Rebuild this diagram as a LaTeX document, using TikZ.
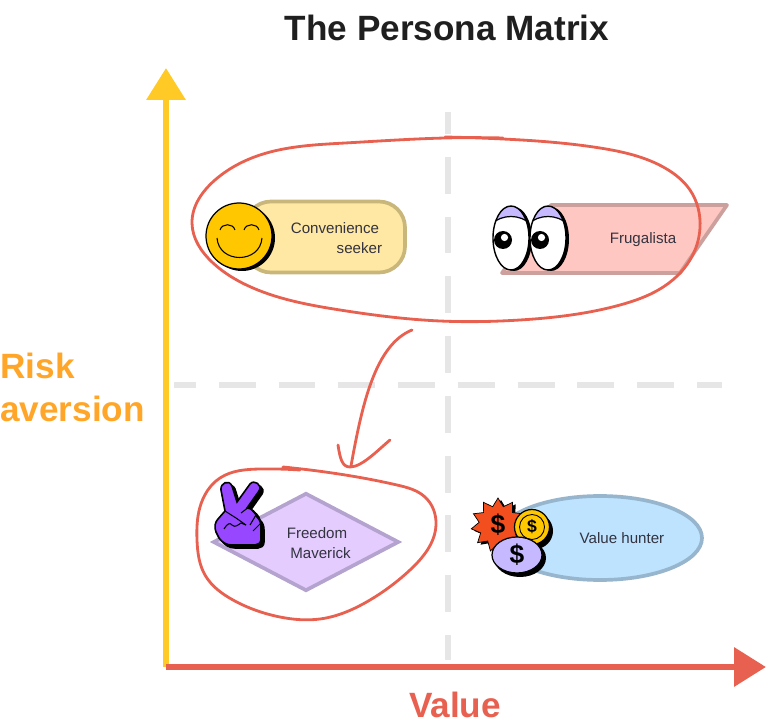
\documentclass[tikz,border=0pt]{standalone}
\usepackage{fontspec}
\setmainfont{Liberation Sans}
\usetikzlibrary{shapes.geometric, arrows.meta, hobby}
\definecolor{axisyellow}{HTML}{FFC926}
\definecolor{axisred}{HTML}{E8604F}
\definecolor{riskorange}{HTML}{FFA629}
\definecolor{griddash}{HTML}{E6E6E6}
\definecolor{inktext}{HTML}{333340}
\definecolor{lilac}{HTML}{C7B9FF}
\definecolor{coinyellow}{HTML}{FFC700}
\definecolor{burstred}{HTML}{F24E1E}
\definecolor{handpurple}{HTML}{9747FF}
\tikzset{
  axisline/.style={line width=3.8pt},
  griddashes/.style={griddash, line width=3.97pt, dash pattern=on 20.98pt off 13.04pt, dash phase=8.5pt},
  sketchline/.style={draw=axisred, line width=1.6pt, line cap=round, line join=round},
  persona/.style={inner sep=0pt, line width=2.1pt},
  personatext/.style={font=\fontsize{8.6}{11.8}\selectfont, text=inktext, align=center, inner sep=0pt},
  bigtext/.style={font=\fontsize{20}{24.5}\selectfont\bfseries, inner sep=0pt},
  dollar/.style={font=\fontsize{15}{15}\selectfont\bfseries, inner sep=0pt},
}
\newcommand{\handpath}{(221,490) .. controls (220,483) and (229,479) .. (232,486) -- (237,502) -- (250,484) .. controls (254,479) and (263,485) .. (259,491) -- (247,508) .. controls (252,508) and (256,513) .. (257,517) .. controls (260,520) and (261,523) .. (261,527) -- (261,539) .. controls (261,543) and (258,545) .. (255,545) -- (232,545) .. controls (226,545) and (222,542) .. (219,538) -- (216,532) .. controls (214,527) and (215,522) .. (218,519) -- (225,511) -- cycle}
\begin{document}
\begin{tikzpicture}[x=0.02cm, y=-0.02cm]
  \useasboundingbox (0,0) rectangle (768,726);

  \node[bigtext, text=black!88] (title) at (447,28) {The Persona Matrix};

  % dashed cross
  \draw[griddashes] (448,112) -- (448,660);
  \draw[griddashes] (174,385) -- (722,385);

  % axes
  \coordinate (origin) at (166,667);
  \coordinate (ytip) at (166,68);
  \coordinate (xtip) at (766,667);
  \draw[axisline, axisyellow, -{Triangle[length=32*0.02cm, width=38*0.02cm]}] (origin) -- (ytip);
  \draw[axisline, axisred, -{Triangle[length=32*0.02cm, width=38*0.02cm]}] (origin) -- (xtip);
  \node[bigtext, text=riskorange, align=left, anchor=north west] (risk) at (0,353) {Risk\\aversion};
  \node[bigtext, text=axisred] (value) at (455,705) {Value};

  % personas
  \node[persona, rounded corners=26*0.02cm, minimum width=160*0.02cm, minimum height=71*0.02cm, draw={rgb,255:red,201;green,182;blue,122}, fill={rgb,255:red,255;green,232;blue,163}] (convenience) at (325,237) {};
  \node[personatext, align=right] (conveniencetext) at (335,238) {Convenience\\seeker\hspace*{-1.7pt}};

  \filldraw[persona, fill={rgb,255:red,255;green,199;blue,194}, draw={rgb,255:red,204;green,160;blue,156}, line join=round] (551,205) -- (727,205) -- (680,273) -- (502,273) -- cycle;
  \node[personatext] (frugalista) at (643,240) {Frugalista};

  \node[persona, diamond, draw={rgb,255:red,181;green,163;blue,207}, fill={rgb,255:red,228;green,204;blue,255}, minimum width=186*0.02cm, minimum height=98*0.02cm] (freedom) at (306,542) {};
  \node[personatext] (freedomtext) at (317,543) {Freedom\\\hspace{4pt}Maverick};

  \node[persona, ellipse, draw={rgb,255:red,151;green,181;blue,204}, fill={rgb,255:red,189;green,227;blue,255}, minimum width=204*0.02cm, minimum height=84*0.02cm] (hunter) at (600,538) {};
  \node[personatext] (huntertext) at (622,538) {Value hunter};

  % smiley
  \fill[black] (242,238) circle (33);
  \filldraw[fill=coinyellow, draw=black, line width=0.7pt] (239,236) circle (33);
  \draw[line width=0.6pt] (220,230) .. controls (222,223) and (233,223) .. (235,230);
  \draw[line width=0.6pt] (244,230) .. controls (246,223) and (257,223) .. (259,230);
  \draw[line width=0.6pt] (217,238) .. controls (219,264) and (260,264) .. (262,238);

  % eyes
  \foreach \ex/\px in {511/503, 548/540} {
    \fill[black] (\ex+3,239) ellipse (18 and 32);
    \begin{scope}
      \clip (\ex,238) ellipse (18 and 32);
      \fill[white] (\ex-20,200) rectangle (\ex+20,275);
      \fill[lilac] (\ex-20,224) .. controls (\ex-8,214) and (\ex+8,214) .. (\ex+20,224) -- (\ex+20,200) -- (\ex-20,200) -- cycle;
      \draw[line width=0.7pt] (\ex-20,224) .. controls (\ex-8,214) and (\ex+8,214) .. (\ex+20,224);
    \end{scope}
    \draw[line width=0.8pt] (\ex,238) ellipse (18 and 32);
    \fill[black] (\px,240) circle (9);
    \fill[white] (\px+1.5,237.5) circle (3.6);
  }

  % hand
  \begin{scope}[shift={(3,3)}]
    \filldraw[black, line width=0.9pt] \handpath;
  \end{scope}
  \filldraw[fill=handpurple, draw=black, line width=0.9pt] \handpath;
  \draw[line width=0.6pt] (225,511) -- (236,518) -- (246,525);
  \draw[line width=0.6pt] (224,529) .. controls (227,524) and (230,522) .. (232,525) .. controls (235,528) and (238,525) .. (241,523) -- (246,525);
  \draw[line width=0.6pt] (241,513) -- (249,507) -- (256,515) -- (250,525);
  \draw[line width=0.6pt] (253,531) -- (261,523);

  % money
  \node[star, star points=11, star point ratio=1.42, fill=black, minimum size=54*0.02cm, inner sep=0pt] (burstshadow) at (501,527) {};
  \node[star, star points=11, star point ratio=1.42, fill=burstred, draw=black, line width=0.4pt, minimum size=54*0.02cm, inner sep=0pt] (burst) at (498,525) {};
  \node[dollar] (burstsign) at (burst) {\$};
  \fill[black] (535,531) circle (18);
  \node[circle, fill=coinyellow, draw=black, line width=0.7pt, minimum size=35*0.02cm, inner sep=0pt] (coin) at (532,527) {};
  \node[circle, draw=black, line width=0.5pt, minimum size=25*0.02cm, inner sep=0pt, font=\fontsize{10}{10}\selectfont\bfseries] (coinsign) at (coin) {\$};
  \fill[black] (520,558) ellipse (26 and 19);
  \node[ellipse, fill=lilac, draw=black, line width=0.7pt, minimum width=50*0.02cm, minimum height=36*0.02cm, inner sep=0pt] (note) at (517,555) {};
  \node[dollar] (notesign) at (note) {\$};

  % hand drawn loops
  \draw[sketchline, use Hobby shortcut] (445,137) .. (503,139) .. (600,148) .. (665,168) .. (690,190) .. (700,228) .. (690,260) .. (660,289) .. (620,305) .. (520,320) .. (440,321) .. (340,310) .. (253,288) .. (213,263) .. (192,223) .. (215,180) .. (260,155) .. (345,143) .. (445,138) .. (503,138);
  \draw[sketchline, use Hobby shortcut] (300,470) .. (260,469) .. (220,478) .. (200,507) .. (197,540) .. (205,575) .. (233,600) .. (280,617) .. (320,619) .. (370,600) .. (410,570) .. (436,525) .. (425,497) .. (397,485) .. (310,470) .. (283,467);
  \draw[sketchline] (412,330) .. controls (375,345) and (362,405) .. (351,466);
  \draw[sketchline] (338,445) .. controls (340,458) and (342,467) .. (350,467) .. controls (362,467) and (378,450) .. (390,440);
\end{tikzpicture}
\end{document}
